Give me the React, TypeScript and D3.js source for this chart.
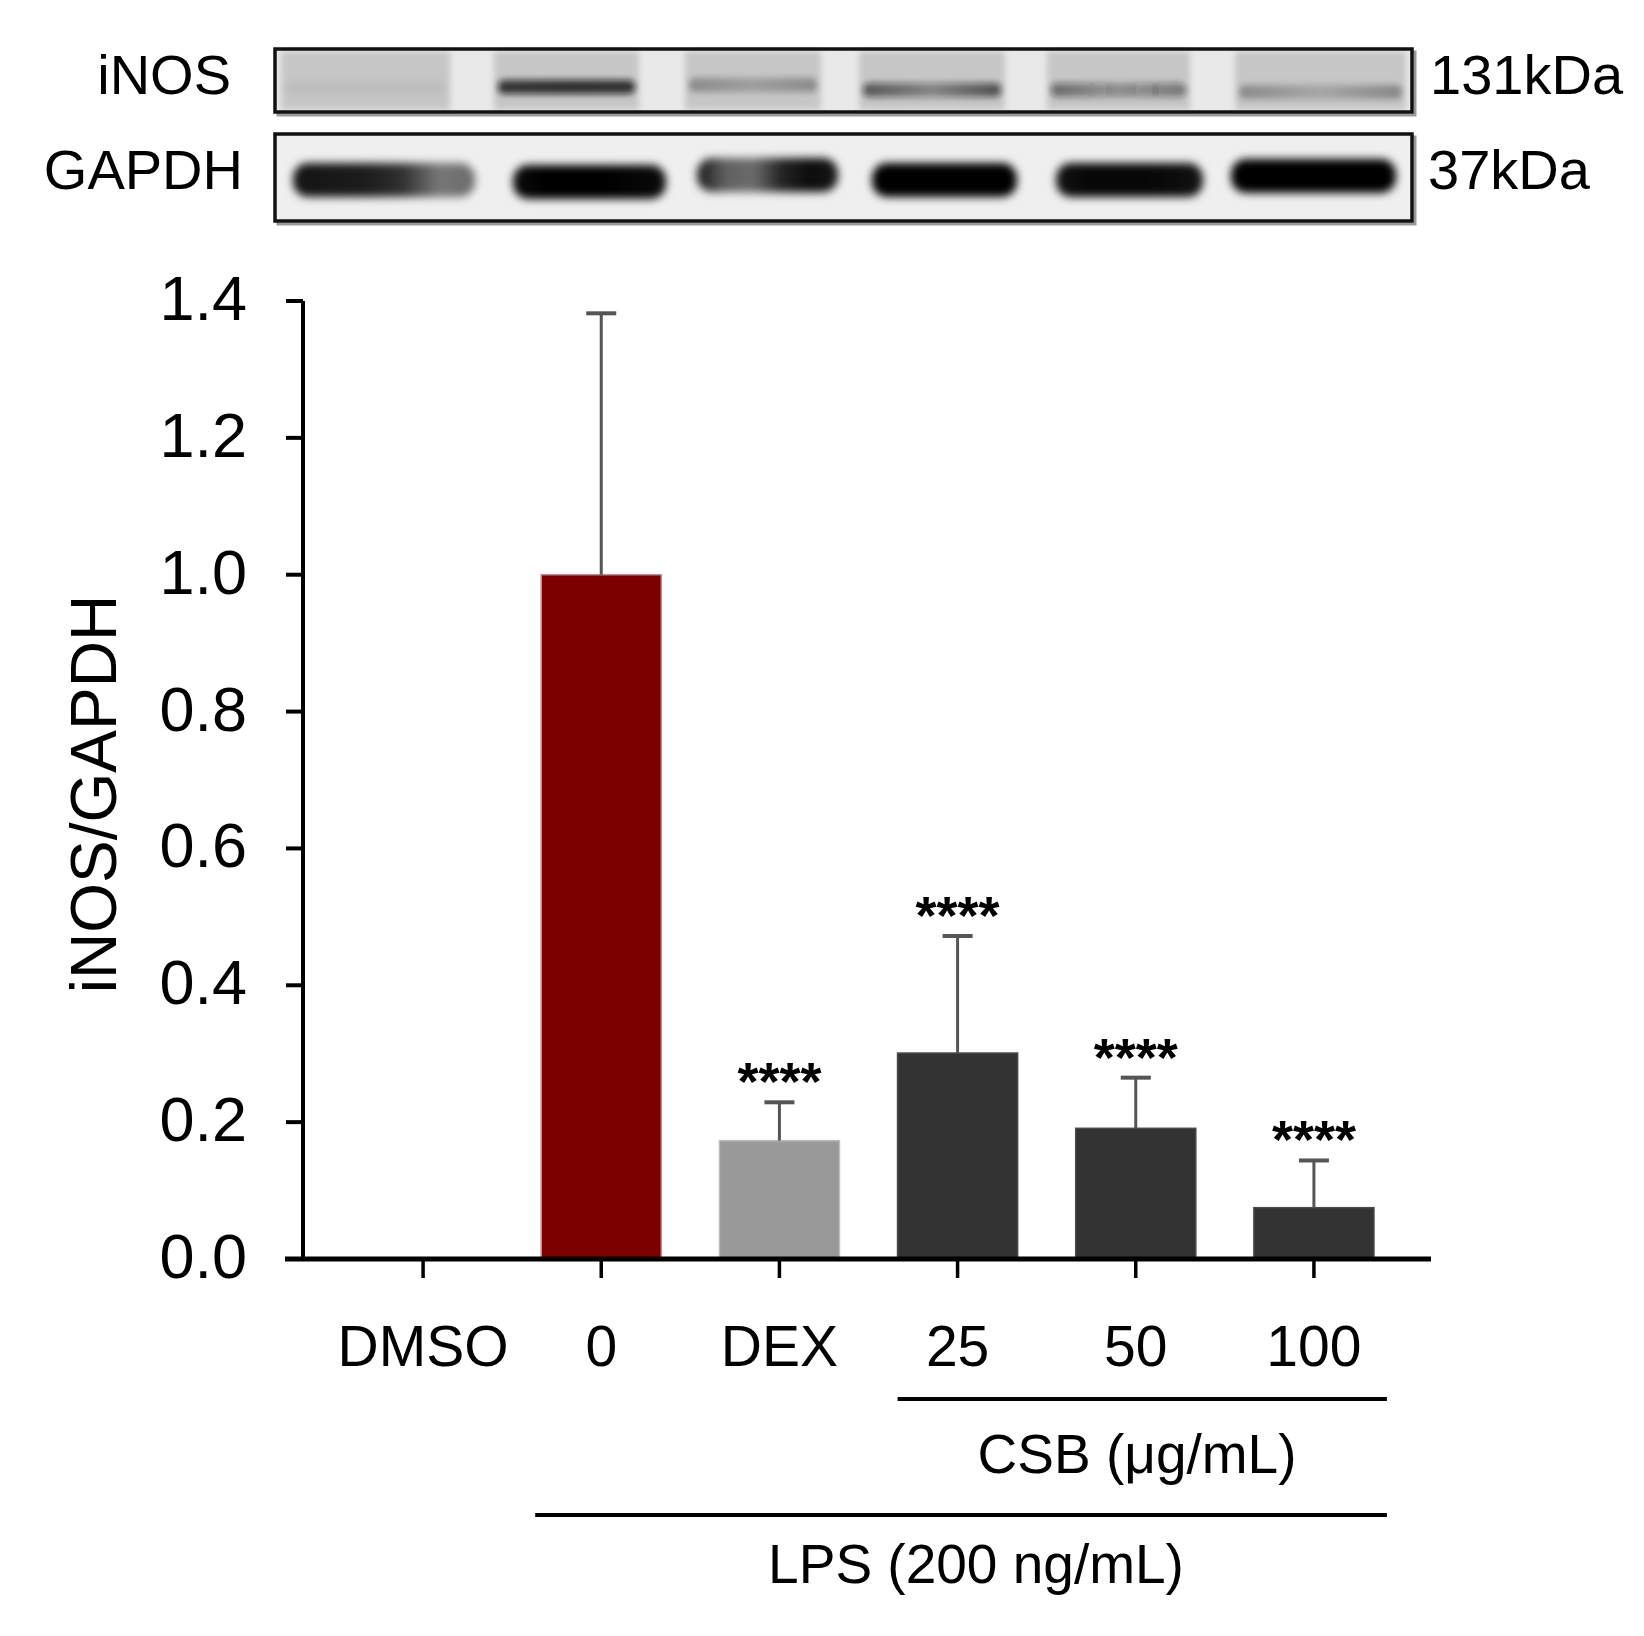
import React from 'react';
import * as d3 from 'd3';

// groups on the x axis and the measured iNOS/GAPDH ratios
const groups = ['DMSO', '0', 'DEX', '25', '50', '100'];
const means = [0, 1.0, 0.173, 0.301, 0.191, 0.075];
const sds = [0, 0.382, 0.056, 0.171, 0.074, 0.069];
const marks = ['', '', '****', '****', '****', '****'];
const yTicks = [0, 0.2, 0.4, 0.6, 0.8, 1.0, 1.2, 1.4];

// western blot band intensity profiles, one per lane (left -> right across the band)
const inosProfiles = [
  [0.04, 0.04, 0.04],
  [0.78, 0.82, 0.8],
  [0.3, 0.2, 0.3],
  [0.62, 0.38, 0.66],
  [0.52, 0.28, 0.45],
  [0.3, 0.16, 0.32],
];
const gapdhProfiles = [
  [0.92, 0.9, 0.88, 0.8, 0.5, 0.55],
  [0.95, 1, 1, 1, 0.98, 0.95],
  [0.9, 0.6, 0.55, 0.85, 0.95, 0.9],
  [1, 1, 1, 1, 1, 1],
  [0.92, 0.97, 0.97, 0.97, 0.95, 0.92],
  [1, 1, 1, 1, 1, 1],
];

const FONT = '"Liberation Sans", Arial, Helvetica, sans-serif';
const fills: Record<string, [string, string]> = {
  DMSO: ['#333333', '#555555'],
  '0': ['#7b0000', '#c98a8a'],
  DEX: ['#999999', '#bdbdbd'],
  '25': ['#333333', '#4a4a4a'],
  '50': ['#333333', '#4a4a4a'],
  '100': ['#333333', '#4a4a4a'],
};

// blot layout (picture geometry)
const inosBox = { x: 275, y: 49, w: 1137, h: 63 };
const gapdhBox = { x: 275, y: 134, w: 1137, h: 87 };
const inosLanes = [[281, 450], [494, 639], [685, 821], [859, 1005], [1047, 1190], [1235, 1406]];
const gapdhLanes = [[293, 475], [513, 666], [697, 838], [872, 1017], [1056, 1203], [1231, 1396]];
const gapdhY = [180, 182, 175, 180, 180, 176];
const inosY = [88, 87, 85, 90, 90, 92];

function Blot() {
  return (
    <g>
      <defs>
        <filter id="blurA" x="-20%" y="-80%" width="140%" height="260%">
          <feGaussianBlur stdDeviation="3" />
        </filter>
        <filter id="blurB" x="-20%" y="-80%" width="140%" height="260%">
          <feGaussianBlur stdDeviation="4" />
        </filter>
        {inosProfiles.map((p, i) => (
          <linearGradient key={'gi' + i} id={'gi' + i} x1="0" x2="1" y1="0" y2="0">
            {p.map((v, j) => (
              <stop key={j} offset={j / (p.length - 1)} stopColor="#111" stopOpacity={v} />
            ))}
          </linearGradient>
        ))}
        {gapdhProfiles.map((p, i) => (
          <linearGradient key={'gg' + i} id={'gg' + i} x1="0" x2="1" y1="0" y2="0">
            {p.map((v, j) => (
              <stop key={j} offset={j / (p.length - 1)} stopColor="#050505" stopOpacity={v} />
            ))}
          </linearGradient>
        ))}
      </defs>

      {/* iNOS strip */}
      <rect x={inosBox.x + 3} y={inosBox.y + 3} width={inosBox.w} height={inosBox.h} fill="none" stroke="#999" strokeWidth={3} />
      <rect x={inosBox.x} y={inosBox.y} width={inosBox.w} height={inosBox.h} fill="#e9e9e9" />
      {inosLanes.map(([a, b], i) => (
        <rect key={'l' + i} x={a} y={inosBox.y + 2} width={b - a} height={inosBox.h - 4} fill="#c6c6c6" filter="url(#blurA)" />
      ))}
      {inosLanes.map(([a, b], i) => (
        <rect key={'b' + i} x={a + 4} y={inosY[i] - 7} width={b - a - 8} height={14} rx={6} fill={`url(#gi${i})`} filter="url(#blurA)" />
      ))}
      <rect x={inosBox.x} y={inosBox.y} width={inosBox.w} height={inosBox.h} fill="none" stroke="#111" strokeWidth={3.5} />

      {/* GAPDH strip */}
      <rect x={gapdhBox.x + 3} y={gapdhBox.y + 3} width={gapdhBox.w} height={gapdhBox.h} fill="none" stroke="#999" strokeWidth={3} />
      <rect x={gapdhBox.x} y={gapdhBox.y} width={gapdhBox.w} height={gapdhBox.h} fill="#efefef" />
      {gapdhLanes.map(([a, b], i) => (
        <rect key={'g' + i} x={a} y={gapdhY[i] - 17} width={b - a} height={34} rx={15} fill={`url(#gg${i})`} filter="url(#blurB)" />
      ))}
      <rect x={gapdhBox.x} y={gapdhBox.y} width={gapdhBox.w} height={gapdhBox.h} fill="none" stroke="#111" strokeWidth={3.5} />

      <text x={231} y={94} fontSize={56} textAnchor="end" fontFamily={FONT}>iNOS</text>
      <text x={243} y={189} fontSize={56} textAnchor="end" fontFamily={FONT}>GAPDH</text>
      <text x={1430} y={94} fontSize={56} fontFamily={FONT}>131kDa</text>
      <text x={1428} y={189} fontSize={56} fontFamily={FONT}>37kDa</text>
    </g>
  );
}

export default function App() {
  const x = d3.scaleBand<string>().domain(groups).range([334, 1403]).paddingInner(0.326).paddingOuter(0.163);
  const y = d3.scaleLinear().domain([0, 1.4]).range([1259, 301]);
  const axisX = 303;
  const fmt = d3.format('.1f');

  return (
    <svg width={1644} height={1636} style={{ position: 'absolute', left: 0, top: 0, background: '#fff' }}>
      <Blot />

      {/* bars */}
      {groups.map((g, i) =>
        means[i] > 0 ? (
          <rect
            key={g}
            x={x(g)!}
            y={y(means[i])}
            width={x.bandwidth()}
            height={y(0) - y(means[i])}
            fill={fills[g][0]}
            stroke={fills[g][1]}
            strokeWidth={1.5}
          />
        ) : null
      )}

      {/* error bars */}
      {groups.map((g, i) => {
        if (sds[i] <= 0) return null;
        const cx = x(g)! + x.bandwidth() / 2;
        const top = y(means[i] + sds[i]);
        return (
          <g key={'e' + g} stroke="#555" strokeWidth={3}>
            <line x1={cx} x2={cx} y1={y(means[i])} y2={top} />
            <line x1={cx - 15} x2={cx + 15} y1={top} y2={top} strokeWidth={4} />
          </g>
        );
      })}

      {/* significance */}
      {groups.map((g, i) =>
        marks[i] ? (
          <text
            key={'s' + g}
            x={x(g)! + x.bandwidth() / 2}
            y={y(means[i] + sds[i]) - 2}
            fontSize={54}
            fontWeight="bold"
            textAnchor="middle"
            fontFamily={FONT}
          >
            {marks[i]}
          </text>
        ) : null
      )}

      {/* y axis */}
      <line x1={axisX} x2={axisX} y1={y(1.4)} y2={y(0)} stroke="#000" strokeWidth={4} />
      {yTicks.map((t) => (
        <g key={t}>
          <line x1={axisX - 17} x2={axisX} y1={y(t)} y2={y(t)} stroke="#000" strokeWidth={4} />
          <text x={247} y={y(t) + 19} fontSize={63} textAnchor="end" fontFamily={FONT}>
            {fmt(t)}
          </text>
        </g>
      ))}
      <text transform="translate(116,794) rotate(-90)" fontSize={64} textAnchor="middle" fontFamily={FONT}>
        iNOS/GAPDH
      </text>

      {/* x axis */}
      <line x1={285} x2={1431} y1={y(0)} y2={y(0)} stroke="#000" strokeWidth={5} />
      {groups.map((g) => {
        const cx = x(g)! + x.bandwidth() / 2;
        return (
          <g key={'t' + g}>
            <line x1={cx} x2={cx} y1={y(0)} y2={y(0) + 19} stroke="#000" strokeWidth={3.5} />
            <text x={cx} y={1366} fontSize={57} textAnchor="middle" fontFamily={FONT}>
              {g}
            </text>
          </g>
        );
      })}

      {/* treatment brackets */}
      <line x1={x('25')! - 60 + x.bandwidth() / 2} x2={x('100')! + x.bandwidth() / 2 + 73} y1={1399} y2={1399} stroke="#000" strokeWidth={4} />
      <text x={1137} y={1473} fontSize={55} textAnchor="middle" fontFamily={FONT}>CSB (μg/mL)</text>
      <line x1={x('0')! - 6} x2={x('100')! + x.bandwidth() / 2 + 73} y1={1515} y2={1515} stroke="#000" strokeWidth={4} />
      <text x={976} y={1583} fontSize={55} textAnchor="middle" fontFamily={FONT}>LPS (200 ng/mL)</text>
    </svg>
  );
}
